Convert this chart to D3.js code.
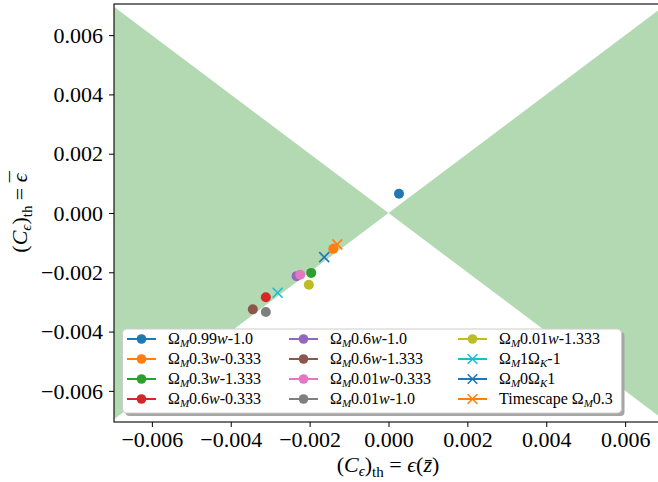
<!DOCTYPE html>
<html>
<head>
<meta charset="utf-8">
<script src="https://cdn.jsdelivr.net/npm/d3@7"></script>
<style>
  html, body { margin: 0; padding: 0; background: #fff; }
  svg { display: block; }
  text { font-family: "Liberation Serif", "DejaVu Serif", serif; }
</style>
</head>
<body>
<div id="chart"></div>
<script>
// ---- data ----
const omegaM = ["0.99", "0.3", "0.3", "0.6", "0.6", "0.6", "0.01", "0.01", "0.01", "1", "0", "0.3"];
const wParam = ["-1.0", "-0.333", "-1.333", "-0.333", "-1.0", "-1.333", "-0.333", "-1.0", "-1.333", null, null, null];
const omegaK = [null, null, null, null, null, null, null, null, null, "-1", "1", null];
const kinds  = ["w", "w", "w", "w", "w", "w", "w", "w", "w", "k", "k", "timescape"];
const epsZ   = [0.000266, -0.00140, -0.00196, -0.00311, -0.00233, -0.00344, -0.00224, -0.00311, -0.00202, -0.00281, -0.00163, -0.00130];
const epsBar = [0.000647, -0.00121, -0.00202, -0.00284, -0.00213, -0.00325, -0.00208, -0.00334, -0.00242, -0.00269, -0.00149, -0.00106];
const xTicks = [-0.006, -0.004, -0.002, 0.000, 0.002, 0.004, 0.006];
const yTicks = [-0.006, -0.004, -0.002, 0.000, 0.002, 0.004, 0.006];
const xLim = [-0.00696, 0.00696];
const yLim = [-0.00705, 0.00705];

// ---- styles ----
const seriesColors = ["#1f77b4", "#ff7f0e", "#2ca02c", "#d62728", "#9467bd", "#8c564b", "#e377c2", "#7f7f7f", "#bcbd22", "#17becf", "#1f77b4", "#ff7f0e"];
const seriesMarkers = ["o", "o", "o", "o", "o", "o", "o", "o", "o", "x", "x", "x"];

const W = 658, H = 482;
const L = 114, R = 663, T = 4, B = 422;

const svg = d3.select("#chart").append("svg").attr("width", W).attr("height", H);
const x = d3.scaleLinear().domain(xLim).range([L, R]);
const y = d3.scaleLinear().domain(yLim).range([B, T]);

svg.append("defs").append("clipPath").attr("id", "clip")
  .append("rect").attr("x", L).attr("y", T).attr("width", R - L).attr("height", B - T);

const plot = svg.append("g").attr("clip-path", "url(#clip)");

// green wedges where |x| > |y|
const big = 0.02;
const wedges = [
  [[0, 0], [-big, big], [-big, -big]],
  [[0, 0], [big, big], [big, -big]]
];
plot.selectAll("path.wedge").data(wedges).enter().append("path")
  .attr("class", "wedge")
  .attr("d", d => d3.line().x(p => x(p[0])).y(p => y(p[1]))(d) + "Z")
  .attr("fill", "#b3d9b3");

// markers
function drawMarker(g, m, color, r) {
  if (m === "o") {
    g.append("circle").attr("r", r).attr("fill", color);
  } else {
    const s = r;
    g.append("path").attr("d", `M${-s},${-s}L${s},${s}M${-s},${s}L${s},${-s}`)
      .attr("stroke", color).attr("stroke-width", 1.6).attr("fill", "none");
  }
}
epsZ.forEach((v, i) => {
  const g = plot.append("g").attr("transform", `translate(${x(v)},${y(epsBar[i])})`);
  drawMarker(g, seriesMarkers[i], seriesColors[i], 5);
});

// axes
const fmt = d => (d < 0 ? "\u2212" : "") + Math.abs(d).toFixed(3);
const xAxis = svg.append("g").attr("transform", `translate(0,${B})`)
  .call(d3.axisBottom(x).tickValues(xTicks).tickFormat(fmt).tickSize(5).tickPadding(5));
const yAxis = svg.append("g").attr("transform", `translate(${L},0)`)
  .call(d3.axisLeft(y).tickValues(yTicks).tickFormat(fmt).tickSize(5).tickPadding(6));
[xAxis, yAxis].forEach(a => {
  a.select(".domain").remove();
  a.selectAll("text").attr("font-size", 22).attr("fill", "#000")
    .style("font-family", '"Liberation Serif", serif');
  a.selectAll("line").attr("stroke", "#000").attr("stroke-width", 1);
});
xAxis.selectAll("text").attr("y", 25).attr("dy", 0);
yAxis.selectAll("text").attr("dy", "0.33em");

// frame
svg.append("rect").attr("x", L).attr("y", T).attr("width", R - L).attr("height", B - T)
  .attr("fill", "none").attr("stroke", "#000").attr("stroke-width", 1.1);

// axis labels
const xl = svg.append("text").attr("x", 388).attr("y", 472).attr("text-anchor", "middle")
  .attr("font-size", 22);
xl.append("tspan").text("(");
xl.append("tspan").attr("font-style", "italic").text("C");
xl.append("tspan").attr("font-size", 15).attr("dy", 4).attr("font-style", "italic").text("\u03f5");
xl.append("tspan").attr("dy", -4).text(")");
xl.append("tspan").attr("font-size", 15).attr("dy", 5).text("th");
xl.append("tspan").attr("dy", -5).text(" = ");
xl.append("tspan").attr("font-style", "italic").text("\u03f5");
xl.append("tspan").text("(");
xl.append("tspan").attr("font-style", "italic").text("z\u0304");
xl.append("tspan").text(")");

const yl = svg.append("text").attr("transform", "translate(27,212) rotate(-90)")
  .attr("text-anchor", "middle").attr("font-size", 22);
yl.append("tspan").text("(");
yl.append("tspan").attr("font-style", "italic").text("C");
yl.append("tspan").attr("font-size", 15).attr("dy", 4).attr("font-style", "italic").text("\u03f5");
yl.append("tspan").attr("dy", -4).text(")");
yl.append("tspan").attr("font-size", 15).attr("dy", 5).text("th");
yl.append("tspan").attr("dy", -5).text(" = ");
yl.append("tspan").attr("font-style", "italic").text("\u03f5");
yl.append("tspan").attr("dx", -9).attr("dy", -2).text("\u00af");
</script>
<script>
// legend
(function () {
const lg = svg.append("g");
const lx = 122.5, ly = 329, lw = 499, lh = 84;
lg.append("rect").attr("x", lx + 3).attr("y", ly + 3).attr("width", lw).attr("height", lh)
  .attr("rx", 4).attr("fill", "#a6a6a6");
lg.append("rect").attr("x", lx).attr("y", ly).attr("width", lw).attr("height", lh)
  .attr("rx", 4).attr("fill", "#fff").attr("stroke", "#cccccc").attr("stroke-width", 1);

const colX = [127, 289, 458];
const rowY = [339, 359, 379, 399];
epsZ.forEach((v, i) => {
  const c = Math.floor(i / 4), r = i % 4;
  const g = lg.append("g").attr("transform", `translate(${colX[c]},${rowY[r]})`);
  g.append("line").attr("x1", 0).attr("x2", 29).attr("stroke", seriesColors[i]).attr("stroke-width", 2);
  const mg = g.append("g").attr("transform", "translate(14.5,0)");
  drawMarker(mg, seriesMarkers[i], seriesColors[i], 4.8);
  const t = g.append("text").attr("x", 41).attr("y", 5).attr("font-size", 16);
  if (kinds[i] === "timescape") {
    t.append("tspan").text("Timescape \u03a9");
  } else {
    t.append("tspan").text("\u03a9");
  }
  t.append("tspan").attr("font-size", 11).attr("dy", 3).attr("font-style", "italic").text("M");
  t.append("tspan").attr("dy", -3).text(omegaM[i]);
  if (kinds[i] === "w") {
    t.append("tspan").attr("font-style", "italic").text("w");
    t.append("tspan").text(wParam[i]);
  } else if (kinds[i] === "k") {
    t.append("tspan").text("\u03a9");
    t.append("tspan").attr("font-size", 11).attr("dy", 3).attr("font-style", "italic").text("K");
    t.append("tspan").attr("dy", -3).text(omegaK[i]);
  }
});
})();
</script>
</body>
</html>
